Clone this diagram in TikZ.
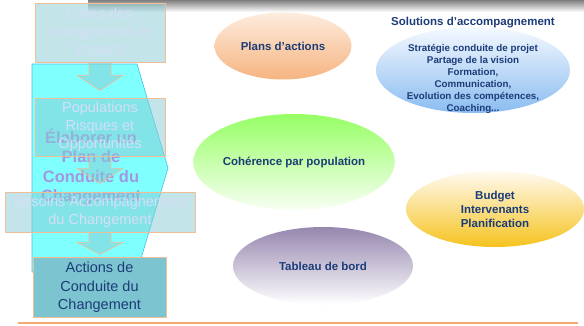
\documentclass[tikz,border=0pt]{standalone}
\usepackage{fontspec}
\setmainfont{Liberation Sans}
\usetikzlibrary{shapes.geometric,calc}
\definecolor{txtblue}{RGB}{28,60,120}
\definecolor{boxteal}{RGB}{135,203,211}
\definecolor{boxline}{RGB}{240,190,150}
\definecolor{chevcyan}{RGB}{128,255,255}
\definecolor{chevline}{RGB}{70,190,225}
\definecolor{chevtxt}{RGB}{162,152,226}
\definecolor{paletxt}{RGB}{214,222,247}
\definecolor{darkbox}{RGB}{124,196,207}
\definecolor{rulecol}{RGB}{247,170,110}
\tikzset{
  stepbox/.style={draw=boxline, line width=0.8pt, fill=boxteal, fill opacity=0.5, text opacity=1,
    text=paletxt, align=center, inner sep=0pt, font=\fontsize{14.5}{18}\selectfont},
  blockarrow/.style={draw=boxline, line width=0.6pt, fill=boxteal, fill opacity=0.5},
  bubble/.style={ellipse, draw=none, align=center, text=txtblue, inner sep=0pt,
    font=\bfseries\fontsize{11.5}{14}\selectfont},
}
% block arrow below a box: node, shaft length, head length
\newcommand\downblock[3]{%
  \path[blockarrow] ($(#1.south)+(-11,0)$) -- ++(0,#2) -- ++(-12,0)
    -- ($(#1.south)+(0,#2+#3)$) -- ($(#1.south)+(23,#2)$) -- ++(-12,0)
    -- ($(#1.south)+(11,0)$) -- cycle;}
\begin{document}
\begin{tikzpicture}[x=1pt, y=-1pt, line join=round]
		\useasboundingbox (0,0) rectangle (584,325);
		% shadow at the top
		\shade[top color=black!50, bottom color=white] (88,0) rectangle (584,12);
		% chevron
		\coordinate (A) at (32,64);
		\coordinate (B) at (137,64);
		\coordinate (C) at (168,168);
		\coordinate (D) at (137,272);
		\coordinate (E) at (32,272);
		\draw[chevline, fill=chevcyan, line width=0.6pt] (A)--(B)--(C)--(D)--(E)--cycle;
		\node[text=chevtxt, align=center, font=\bfseries\fontsize{16.5}{19.5}\selectfont] (Plan) at (91,167)
			{Élaborer un\\Plan de\\Conduite du\\Changement};
		% boxes of the left column
		\node[stepbox, minimum width=130, minimum height=59] (L1) at (100,32.5)
			{Listes des\\changements et\\impacts};
		\node[stepbox, minimum width=130, minimum height=58] (L2) at (100,127)
			{Populations\\Risques et\\Opportunités};
		\node[stepbox, minimum width=190, minimum height=40] (L3) at (100,212)
			{Besoins Accompagnement\\du Changement};
		\downblock{L1}{13}{15}
		\downblock{L2}{12}{15}
		\downblock{L3}{10}{12}
		\node[stepbox, fill=darkbox, fill opacity=1, text=txtblue, minimum width=133, minimum height=60,
			font=\fontsize{14.5}{18.5}\selectfont] (L4) at (99.5,287.5)
			{Actions de\\Conduite du\\Changement};
		% ellipses
		\node[bubble, minimum width=137, minimum height=67,
			top color={rgb,255:red,253;green,236;blue,222}, bottom color={rgb,255:red,246;green,180;blue,128}]
			(P1) at (283,46) {Plans d'actions};
		\node[text=txtblue, font=\bfseries\fontsize{11.5}{14}\selectfont] (S0) at (473,23)
			{Solutions d'accompagnement};
		\node[bubble, minimum width=194, minimum height=86,
			top color={rgb,255:red,245;green,249;blue,255}, bottom color={rgb,255:red,138;green,188;blue,240}]
			(S1) at (473,70) {};
		\node[text=txtblue, align=center, font=\bfseries\fontsize{9.8}{12}\selectfont] (S2) at (473,78.5)
			{Stratégie conduite de projet\\Partage de la vision\\Formation,\\Communication,\\Evolution des compétences,\\Coaching...};
		\node[bubble, minimum width=194, minimum height=96,
			top color={rgb,255:red,150;green,255;blue,100}, bottom color={rgb,255:red,248;green,255;blue,244}]
			(C1) at (294,162) {Cohérence par population};
		\node[bubble, minimum width=178, minimum height=76,
			top color={rgb,255:red,255;green,250;blue,242}, bottom color={rgb,255:red,245;green,195;blue,30}]
			(B1) at (495,209) {Budget\\Intervenants\\Planification};
		\node[bubble, minimum width=180, minimum height=78,
			top color={rgb,255:red,150;green,135;blue,175}, bottom color=white]
			(T1) at (323,266) {Tableau de bord};
		% bottom rule
		\coordinate (R1) at (18,323);
		\coordinate (R2) at (578,323);
		\draw[rulecol, line width=1.5pt] (R1)--(R2);
		\end{tikzpicture}
\end{document}
